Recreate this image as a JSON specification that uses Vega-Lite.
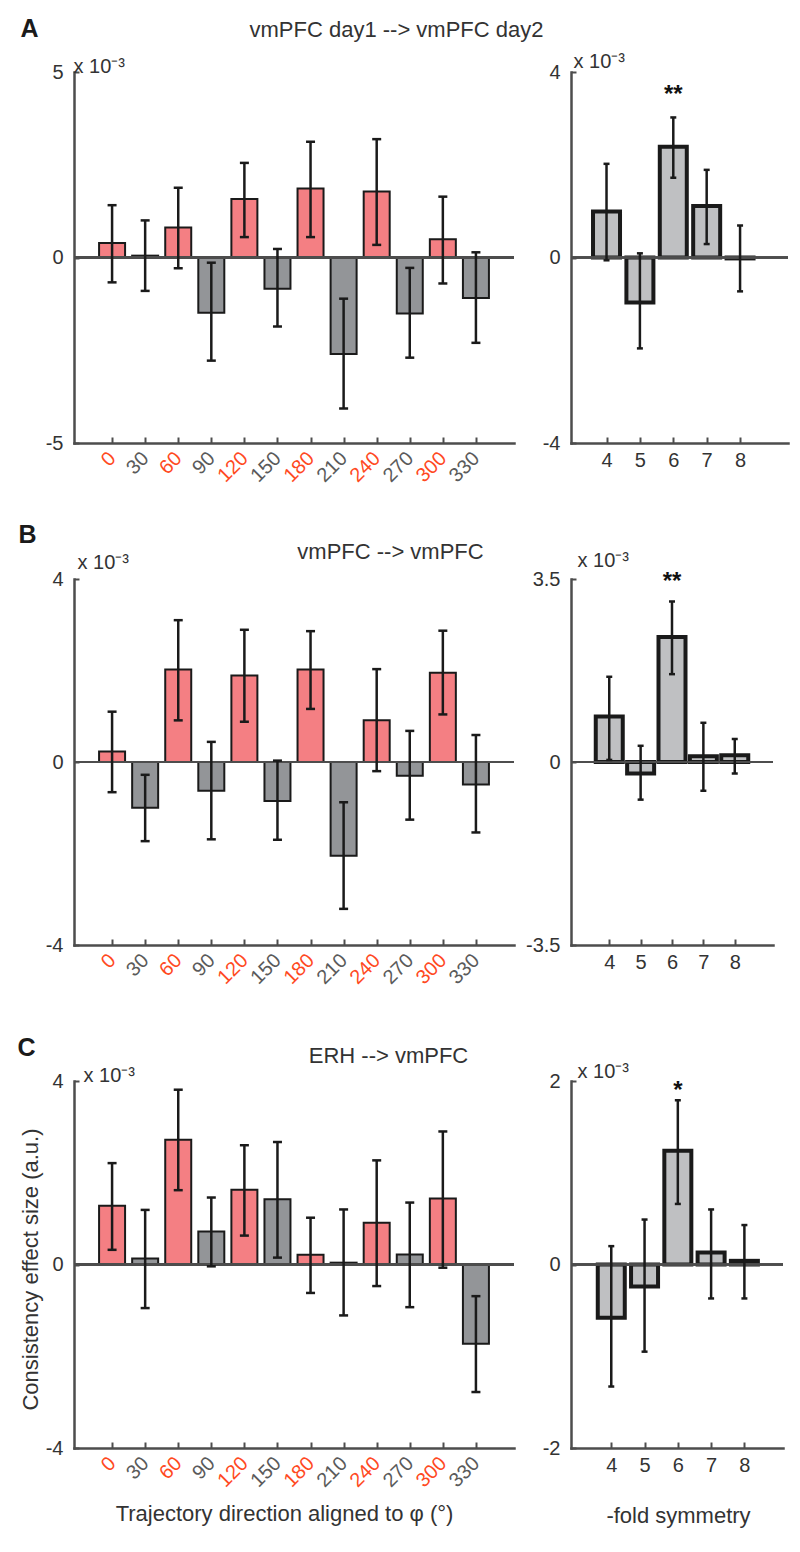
{
  "$schema": "https://vega.github.io/schema/vega-lite/v6.json",
  "background": "white",
  "padding": {"left": 17, "top": 16, "right": 5, "bottom": 5},
  "bounds": "flush",
  "columns": 2,
  "spacing": {"row": 136, "column": 57},
  "config": {
    "view": {"stroke": null},
    "font": "Liberation Sans",
    "axis": {"domainColor": "#4d4d4d", "domainWidth": 2.5, "tickColor": "#4d4d4d", "tickWidth": 2, "labelFont": "Liberation Sans", "labelFontSize": 20, "labelColor": "#333333", "titleFont": "Liberation Sans", "titleFontWeight": "normal", "titleColor": "#333333", "grid": false, "labelFlush": false, "labelOverlap": false, "domainCap": "square", "labelExpr": "'' + datum.value"}
  },
  "datasets": {
    "A_dir": [
      {"dir": 0, "mean": 0.39, "lo": -0.67, "hi": 1.41},
      {"dir": 30, "mean": 0.05, "lo": -0.90, "hi": 1.00},
      {"dir": 60, "mean": 0.81, "lo": -0.29, "hi": 1.88},
      {"dir": 90, "mean": -1.49, "lo": -2.78, "hi": -0.14},
      {"dir": 120, "mean": 1.58, "lo": 0.55, "hi": 2.55},
      {"dir": 150, "mean": -0.84, "lo": -1.86, "hi": 0.23},
      {"dir": 180, "mean": 1.86, "lo": 0.55, "hi": 3.12},
      {"dir": 210, "mean": -2.60, "lo": -4.07, "hi": -1.11},
      {"dir": 240, "mean": 1.78, "lo": 0.34, "hi": 3.19},
      {"dir": 270, "mean": -1.51, "lo": -2.70, "hi": -0.28},
      {"dir": 300, "mean": 0.49, "lo": -0.70, "hi": 1.64},
      {"dir": 330, "mean": -1.09, "lo": -2.30, "hi": 0.14}
    ],
    "A_fold": [
      {"fold": 4, "mean": 0.99, "lo": -0.06, "hi": 2.02, "sig": ""},
      {"fold": 5, "mean": -0.97, "lo": -1.96, "hi": 0.09, "sig": ""},
      {"fold": 6, "mean": 2.39, "lo": 1.72, "hi": 3.02, "sig": "**"},
      {"fold": 7, "mean": 1.11, "lo": 0.29, "hi": 1.89, "sig": ""},
      {"fold": 8, "mean": -0.02, "lo": -0.73, "hi": 0.69, "sig": ""}
    ],
    "B_dir": [
      {"dir": 0, "mean": 0.23, "lo": -0.66, "hi": 1.10},
      {"dir": 30, "mean": -1.00, "lo": -1.73, "hi": -0.28},
      {"dir": 60, "mean": 2.02, "lo": 0.91, "hi": 3.10},
      {"dir": 90, "mean": -0.63, "lo": -1.69, "hi": 0.44},
      {"dir": 120, "mean": 1.89, "lo": 0.88, "hi": 2.89},
      {"dir": 150, "mean": -0.85, "lo": -1.70, "hi": 0.03},
      {"dir": 180, "mean": 2.02, "lo": 1.16, "hi": 2.86},
      {"dir": 210, "mean": -2.05, "lo": -3.21, "hi": -0.88},
      {"dir": 240, "mean": 0.91, "lo": -0.20, "hi": 2.03},
      {"dir": 270, "mean": -0.30, "lo": -1.26, "hi": 0.68},
      {"dir": 300, "mean": 1.95, "lo": 1.04, "hi": 2.87},
      {"dir": 330, "mean": -0.49, "lo": -1.54, "hi": 0.59}
    ],
    "B_fold": [
      {"fold": 4, "mean": 0.87, "lo": 0.04, "hi": 1.63, "sig": ""},
      {"fold": 5, "mean": -0.22, "lo": -0.72, "hi": 0.31, "sig": ""},
      {"fold": 6, "mean": 2.39, "lo": 1.68, "hi": 3.07, "sig": "**"},
      {"fold": 7, "mean": 0.11, "lo": -0.55, "hi": 0.75, "sig": ""},
      {"fold": 8, "mean": 0.13, "lo": -0.22, "hi": 0.44, "sig": ""}
    ],
    "C_dir": [
      {"dir": 0, "mean": 1.28, "lo": 0.32, "hi": 2.21},
      {"dir": 30, "mean": 0.13, "lo": -0.95, "hi": 1.19},
      {"dir": 60, "mean": 2.72, "lo": 1.62, "hi": 3.81},
      {"dir": 90, "mean": 0.72, "lo": -0.04, "hi": 1.46},
      {"dir": 120, "mean": 1.63, "lo": 0.63, "hi": 2.60},
      {"dir": 150, "mean": 1.42, "lo": 0.15, "hi": 2.67},
      {"dir": 180, "mean": 0.21, "lo": -0.62, "hi": 1.02},
      {"dir": 210, "mean": 0.04, "lo": -1.11, "hi": 1.20},
      {"dir": 240, "mean": 0.91, "lo": -0.47, "hi": 2.27},
      {"dir": 270, "mean": 0.22, "lo": -0.93, "hi": 1.35},
      {"dir": 300, "mean": 1.44, "lo": -0.07, "hi": 2.90},
      {"dir": 330, "mean": -1.73, "lo": -2.78, "hi": -0.69}
    ],
    "C_fold": [
      {"fold": 4, "mean": -0.58, "lo": -1.33, "hi": 0.20, "sig": ""},
      {"fold": 5, "mean": -0.24, "lo": -0.95, "hi": 0.49, "sig": ""},
      {"fold": 6, "mean": 1.24, "lo": 0.66, "hi": 1.79, "sig": "*"},
      {"fold": 7, "mean": 0.13, "lo": -0.37, "hi": 0.60, "sig": ""},
      {"fold": 8, "mean": 0.04, "lo": -0.37, "hi": 0.43, "sig": ""}
    ]
  },
  "concat": [
    {
      "width": 440, "height": 371,
      "data": {"name": "A_dir"},
      "layer": [
        {"mark": {"type": "bar", "width": 26, "stroke": "#1a1a1a", "strokeWidth": 2},
         "encoding": {
           "x": {"field": "dir", "type": "quantitative", "scale": {"domain": [-30, 360], "nice": false, "zero": false},
                 "axis": {"orient": "bottom", "values": [0,30,60,90,120,150,180,210,240,270,300,330], "labelAngle": -45, "labelAlign": "right", "labelBaseline": "middle", "labelColor": {"condition": {"test": "datum.value % 60 === 0", "value": "#FF4A1F"}, "value": "#5a5a5a"}, "tickSize": -6, "labelPadding": 18, "title": null}},
           "y": {"field": "mean", "type": "quantitative", "scale": {"domain": [-5, 5], "nice": false},
                 "axis": {"orient": "left", "values": [-5, 0, 5], "tickSize": -5, "labelPadding": 16, "title": "x 10⁻³", "titleAngle": 0, "titleAlign": "left", "titleBaseline": "alphabetic", "titleX": -1, "titleY": 0, "titleFontSize": 20}},
           "fill": {"condition": {"test": "datum.dir % 60 === 0", "value": "#F47F83"}, "value": "#939598"}
         }},
        {"mark": {"type": "rule", "color": "#4d4d4d", "strokeWidth": 2},
         "encoding": {"y": {"datum": 0, "type": "quantitative", "scale": {"domain": [-5, 5], "nice": false}, "axis": null}}},
        {"mark": {"type": "rule", "color": "#1a1a1a", "strokeWidth": 2.5},
         "encoding": {
           "x": {"field": "dir", "type": "quantitative", "scale": {"domain": [-30, 360], "nice": false, "zero": false},
                 "axis": {"orient": "top", "domain": false, "ticks": false, "labels": false, "title": "vmPFC day1 --> vmPFC day2", "titleX": 322, "titleY": -36, "titleAlign": "center", "titleBaseline": "alphabetic", "titleFontSize": 22}},
           "y": {"field": "lo", "type": "quantitative", "scale": {"domain": [-5, 5], "nice": false}, "axis": null},
           "y2": {"field": "hi"}
         }},
        {"mark": {"type": "tick", "orient": "horizontal", "size": 9, "thickness": 2.5, "color": "#1a1a1a", "opacity": 1},
         "encoding": {
           "x": {"field": "dir", "type": "quantitative", "scale": {"domain": [-30, 360], "nice": false, "zero": false},
                 "axis": {"orient": "top", "domain": false, "ticks": false, "labels": false, "title": "A", "titleX": -54, "titleY": -36, "titleAlign": "left", "titleBaseline": "alphabetic", "titleFontSize": 25, "titleFontWeight": "bold", "titleColor": "#1a1a1a"}},
           "y": {"field": "lo", "type": "quantitative", "scale": {"domain": [-5, 5], "nice": false}, "axis": null}
         }},
        {"mark": {"type": "tick", "orient": "horizontal", "size": 9, "thickness": 2.5, "color": "#1a1a1a", "opacity": 1},
         "encoding": {
           "x": {"field": "dir", "type": "quantitative", "scale": {"domain": [-30, 360], "nice": false, "zero": false}, "axis": null},
           "y": {"field": "hi", "type": "quantitative", "scale": {"domain": [-5, 5], "nice": false}, "axis": null}
         }}
      ],
      "resolve": {"axis": {"x": "independent", "y": "independent"}}
    },
    {
      "width": 217, "height": 371,
      "data": {"name": "A_fold"},
      "layer": [
        {"mark": {"type": "bar", "width": 27, "stroke": "#1a1a1a", "strokeWidth": 4, "fill": "#BFC0C2"},
         "encoding": {
           "x": {"field": "fold", "type": "quantitative", "scale": {"domain": [3.086, 9.286], "nice": false, "zero": false},
                 "axis": {"values": [4,5,6,7,8], "labelAngle": 0, "labelAlign": "center", "labelBaseline": "top", "tickSize": -6, "labelPadding": 13, "title": null}},
           "y": {"field": "mean", "type": "quantitative", "scale": {"domain": [-4, 4], "nice": false},
                 "axis": {"values": [-4, 0, 4], "tickSize": -5, "labelPadding": 16, "title": "x 10⁻³", "titleAngle": 0, "titleAlign": "left", "titleBaseline": "alphabetic", "titleX": 2, "titleY": -5, "titleFontSize": 20}}
         }},
        {"mark": {"type": "rule", "color": "#4d4d4d", "strokeWidth": 2},
         "encoding": {"y": {"datum": 0, "type": "quantitative", "scale": {"domain": [-4, 4], "nice": false}, "axis": null}}},
        {"mark": {"type": "rule", "color": "#1a1a1a", "strokeWidth": 2.5},
         "encoding": {"x": {"field": "fold", "type": "quantitative", "scale": {"domain": [3.086, 9.286], "nice": false, "zero": false}, "axis": null}, "y": {"field": "lo", "type": "quantitative", "scale": {"domain": [-4, 4], "nice": false}, "axis": null}, "y2": {"field": "hi"}}},
        {"mark": {"type": "tick", "orient": "horizontal", "size": 6, "thickness": 2.5, "color": "#1a1a1a", "opacity": 1},
         "encoding": {"x": {"field": "fold", "type": "quantitative", "scale": {"domain": [3.086, 9.286], "nice": false, "zero": false}, "axis": null}, "y": {"field": "lo", "type": "quantitative", "scale": {"domain": [-4, 4], "nice": false}, "axis": null}}},
        {"mark": {"type": "tick", "orient": "horizontal", "size": 6, "thickness": 2.5, "color": "#1a1a1a", "opacity": 1},
         "encoding": {"x": {"field": "fold", "type": "quantitative", "scale": {"domain": [3.086, 9.286], "nice": false, "zero": false}, "axis": null}, "y": {"field": "hi", "type": "quantitative", "scale": {"domain": [-4, 4], "nice": false}, "axis": null}}},
        {"mark": {"type": "text", "dy": -15, "fontSize": 24, "fontWeight": "bold", "baseline": "alphabetic", "color": "#111111"},
         "encoding": {"x": {"field": "fold", "type": "quantitative", "scale": {"domain": [3.086, 9.286], "nice": false, "zero": false}, "axis": null}, "y": {"field": "hi", "type": "quantitative", "scale": {"domain": [-4, 4], "nice": false}, "axis": null}, "text": {"field": "sig"}}}
      ],
      "resolve": {"axis": {"x": "independent", "y": "independent"}}
    },
    {
      "width": 440, "height": 366,
      "data": {"name": "B_dir"},
      "layer": [
        {"mark": {"type": "bar", "width": 26, "stroke": "#1a1a1a", "strokeWidth": 2},
         "encoding": {
           "x": {"field": "dir", "type": "quantitative", "scale": {"domain": [-30, 360], "nice": false, "zero": false},
                 "axis": {"orient": "bottom", "values": [0,30,60,90,120,150,180,210,240,270,300,330], "labelAngle": -45, "labelAlign": "right", "labelBaseline": "middle", "labelColor": {"condition": {"test": "datum.value % 60 === 0", "value": "#FF4A1F"}, "value": "#5a5a5a"}, "tickSize": -6, "labelPadding": 18, "title": null}},
           "y": {"field": "mean", "type": "quantitative", "scale": {"domain": [-4, 4], "nice": false},
                 "axis": {"orient": "left", "values": [-4, 0, 4], "tickSize": -5, "labelPadding": 16, "title": "x 10⁻³", "titleAngle": 0, "titleAlign": "left", "titleBaseline": "alphabetic", "titleX": 3, "titleY": -11, "titleFontSize": 20}},
           "fill": {"condition": {"test": "datum.dir % 60 === 0", "value": "#F47F83"}, "value": "#939598"}
         }},
        {"mark": {"type": "rule", "color": "#4d4d4d", "strokeWidth": 2},
         "encoding": {"y": {"datum": 0, "type": "quantitative", "scale": {"domain": [-4, 4], "nice": false}, "axis": null}}},
        {"mark": {"type": "rule", "color": "#1a1a1a", "strokeWidth": 2.5},
         "encoding": {
           "x": {"field": "dir", "type": "quantitative", "scale": {"domain": [-30, 360], "nice": false, "zero": false},
                 "axis": {"orient": "top", "domain": false, "ticks": false, "labels": false, "title": "vmPFC --> vmPFC", "titleX": 316, "titleY": -21, "titleAlign": "center", "titleBaseline": "alphabetic", "titleFontSize": 22}},
           "y": {"field": "lo", "type": "quantitative", "scale": {"domain": [-4, 4], "nice": false}, "axis": null},
           "y2": {"field": "hi"}
         }},
        {"mark": {"type": "tick", "orient": "horizontal", "size": 9, "thickness": 2.5, "color": "#1a1a1a", "opacity": 1},
         "encoding": {
           "x": {"field": "dir", "type": "quantitative", "scale": {"domain": [-30, 360], "nice": false, "zero": false},
                 "axis": {"orient": "top", "domain": false, "ticks": false, "labels": false, "title": "B", "titleX": -56, "titleY": -37, "titleAlign": "left", "titleBaseline": "alphabetic", "titleFontSize": 25, "titleFontWeight": "bold", "titleColor": "#1a1a1a"}},
           "y": {"field": "lo", "type": "quantitative", "scale": {"domain": [-4, 4], "nice": false}, "axis": null}
         }},
        {"mark": {"type": "tick", "orient": "horizontal", "size": 9, "thickness": 2.5, "color": "#1a1a1a", "opacity": 1},
         "encoding": {
           "x": {"field": "dir", "type": "quantitative", "scale": {"domain": [-30, 360], "nice": false, "zero": false}, "axis": null},
           "y": {"field": "hi", "type": "quantitative", "scale": {"domain": [-4, 4], "nice": false}, "axis": null}
         }}
      ],
      "resolve": {"axis": {"x": "independent", "y": "independent"}}
    },
    {
      "width": 202, "height": 366,
      "data": {"name": "B_fold"},
      "layer": [
        {"mark": {"type": "bar", "width": 27, "stroke": "#1a1a1a", "strokeWidth": 4, "fill": "#BFC0C2"},
         "encoding": {
           "x": {"field": "fold", "type": "quantitative", "scale": {"domain": [2.94, 9.06], "nice": false, "zero": false},
                 "axis": {"values": [4,5,6,7,8], "labelAngle": 0, "labelAlign": "center", "labelBaseline": "top", "tickSize": -6, "labelPadding": 13, "title": null}},
           "y": {"field": "mean", "type": "quantitative", "scale": {"domain": [-3.5, 3.5], "nice": false},
                 "axis": {"values": [-3.5, 0, 3.5], "tickSize": -5, "labelPadding": 16, "title": "x 10⁻³", "titleAngle": 0, "titleAlign": "left", "titleBaseline": "alphabetic", "titleX": 6, "titleY": -13, "titleFontSize": 20}}
         }},
        {"mark": {"type": "rule", "color": "#4d4d4d", "strokeWidth": 2},
         "encoding": {"y": {"datum": 0, "type": "quantitative", "scale": {"domain": [-3.5, 3.5], "nice": false}, "axis": null}}},
        {"mark": {"type": "rule", "color": "#1a1a1a", "strokeWidth": 2.5},
         "encoding": {"x": {"field": "fold", "type": "quantitative", "scale": {"domain": [2.94, 9.06], "nice": false, "zero": false}, "axis": null}, "y": {"field": "lo", "type": "quantitative", "scale": {"domain": [-3.5, 3.5], "nice": false}, "axis": null}, "y2": {"field": "hi"}}},
        {"mark": {"type": "tick", "orient": "horizontal", "size": 6, "thickness": 2.5, "color": "#1a1a1a", "opacity": 1},
         "encoding": {"x": {"field": "fold", "type": "quantitative", "scale": {"domain": [2.94, 9.06], "nice": false, "zero": false}, "axis": null}, "y": {"field": "lo", "type": "quantitative", "scale": {"domain": [-3.5, 3.5], "nice": false}, "axis": null}}},
        {"mark": {"type": "tick", "orient": "horizontal", "size": 6, "thickness": 2.5, "color": "#1a1a1a", "opacity": 1},
         "encoding": {"x": {"field": "fold", "type": "quantitative", "scale": {"domain": [2.94, 9.06], "nice": false, "zero": false}, "axis": null}, "y": {"field": "hi", "type": "quantitative", "scale": {"domain": [-3.5, 3.5], "nice": false}, "axis": null}}},
        {"mark": {"type": "text", "dy": -12, "fontSize": 24, "fontWeight": "bold", "baseline": "alphabetic", "color": "#111111"},
         "encoding": {"x": {"field": "fold", "type": "quantitative", "scale": {"domain": [2.94, 9.06], "nice": false, "zero": false}, "axis": null}, "y": {"field": "hi", "type": "quantitative", "scale": {"domain": [-3.5, 3.5], "nice": false}, "axis": null}, "text": {"field": "sig"}}}
      ],
      "resolve": {"axis": {"x": "independent", "y": "independent"}}
    },
    {
      "width": 440, "height": 367,
      "data": {"name": "C_dir"},
      "layer": [
        {"mark": {"type": "bar", "width": 26, "stroke": "#1a1a1a", "strokeWidth": 2},
         "encoding": {
           "x": {"field": "dir", "type": "quantitative", "scale": {"domain": [-30, 360], "nice": false, "zero": false},
                 "axis": {"orient": "bottom", "values": [0,30,60,90,120,150,180,210,240,270,300,330], "labelAngle": -45, "labelAlign": "right", "labelBaseline": "middle", "labelColor": {"condition": {"test": "datum.value % 60 === 0", "value": "#FF4A1F"}, "value": "#5a5a5a"}, "tickSize": -6, "labelPadding": 18, "title": "Trajectory direction aligned to φ (°)", "titleX": 210, "titleY": 72, "titleAlign": "center", "titleBaseline": "alphabetic", "titleFontSize": 22}},
           "y": {"field": "mean", "type": "quantitative", "scale": {"domain": [-4, 4], "nice": false},
                 "axis": {"orient": "left", "values": [-4, 0, 4], "tickSize": -5, "labelPadding": 16, "title": "x 10⁻³", "titleAngle": 0, "titleAlign": "left", "titleBaseline": "alphabetic", "titleX": 9, "titleY": 0, "titleFontSize": 20}},
           "fill": {"condition": {"test": "datum.dir % 60 === 0", "value": "#F47F83"}, "value": "#939598"}
         }},
        {"mark": {"type": "rule", "color": "#4d4d4d", "strokeWidth": 2},
         "encoding": {"y": {"datum": 0, "type": "quantitative", "scale": {"domain": [-4, 4], "nice": false}, "axis": null}}},
        {"mark": {"type": "rule", "color": "#1a1a1a", "strokeWidth": 2.5},
         "encoding": {
           "x": {"field": "dir", "type": "quantitative", "scale": {"domain": [-30, 360], "nice": false, "zero": false},
                 "axis": {"orient": "top", "domain": false, "ticks": false, "labels": false, "title": "ERH --> vmPFC", "titleX": 314, "titleY": -19, "titleAlign": "center", "titleBaseline": "alphabetic", "titleFontSize": 22}},
           "y": {"field": "lo", "type": "quantitative", "scale": {"domain": [-4, 4], "nice": false},
                 "axis": {"orient": "left", "domain": false, "ticks": false, "labels": false, "title": "Consistency effect size (a.u.)", "titleAngle": -90, "titleX": -44, "titleY": 188, "titleAlign": "center", "titleBaseline": "middle", "titleFontSize": 22}},
           "y2": {"field": "hi"}
         }},
        {"mark": {"type": "tick", "orient": "horizontal", "size": 9, "thickness": 2.5, "color": "#1a1a1a", "opacity": 1},
         "encoding": {
           "x": {"field": "dir", "type": "quantitative", "scale": {"domain": [-30, 360], "nice": false, "zero": false},
                 "axis": {"orient": "top", "domain": false, "ticks": false, "labels": false, "title": "C", "titleX": -57, "titleY": -26, "titleAlign": "left", "titleBaseline": "alphabetic", "titleFontSize": 25, "titleFontWeight": "bold", "titleColor": "#1a1a1a"}},
           "y": {"field": "lo", "type": "quantitative", "scale": {"domain": [-4, 4], "nice": false}, "axis": null}
         }},
        {"mark": {"type": "tick", "orient": "horizontal", "size": 9, "thickness": 2.5, "color": "#1a1a1a", "opacity": 1},
         "encoding": {
           "x": {"field": "dir", "type": "quantitative", "scale": {"domain": [-30, 360], "nice": false, "zero": false}, "axis": null},
           "y": {"field": "hi", "type": "quantitative", "scale": {"domain": [-4, 4], "nice": false}, "axis": null}
         }}
      ],
      "resolve": {"axis": {"x": "independent", "y": "independent"}}
    },
    {
      "width": 212, "height": 367,
      "data": {"name": "C_fold"},
      "layer": [
        {"mark": {"type": "bar", "width": 27, "stroke": "#1a1a1a", "strokeWidth": 4, "fill": "#BFC0C2"},
         "encoding": {
           "x": {"field": "fold", "type": "quantitative", "scale": {"domain": [2.94, 9.01], "nice": false, "zero": false},
                 "axis": {"values": [4,5,6,7,8], "labelAngle": 0, "labelAlign": "center", "labelBaseline": "top", "tickSize": -6, "labelPadding": 13, "title": "-fold symmetry", "titleX": 107, "titleY": 74, "titleAlign": "center", "titleBaseline": "alphabetic", "titleFontSize": 22}},
           "y": {"field": "mean", "type": "quantitative", "scale": {"domain": [-2, 2], "nice": false},
                 "axis": {"values": [-2, 0, 2], "tickSize": -5, "labelPadding": 16, "title": "x 10⁻³", "titleAngle": 0, "titleAlign": "left", "titleBaseline": "alphabetic", "titleX": 6, "titleY": -4, "titleFontSize": 20}}
         }},
        {"mark": {"type": "rule", "color": "#4d4d4d", "strokeWidth": 2},
         "encoding": {"y": {"datum": 0, "type": "quantitative", "scale": {"domain": [-2, 2], "nice": false}, "axis": null}}},
        {"mark": {"type": "rule", "color": "#1a1a1a", "strokeWidth": 2.5},
         "encoding": {"x": {"field": "fold", "type": "quantitative", "scale": {"domain": [2.94, 9.01], "nice": false, "zero": false}, "axis": null}, "y": {"field": "lo", "type": "quantitative", "scale": {"domain": [-2, 2], "nice": false}, "axis": null}, "y2": {"field": "hi"}}},
        {"mark": {"type": "tick", "orient": "horizontal", "size": 6, "thickness": 2.5, "color": "#1a1a1a", "opacity": 1},
         "encoding": {"x": {"field": "fold", "type": "quantitative", "scale": {"domain": [2.94, 9.01], "nice": false, "zero": false}, "axis": null}, "y": {"field": "lo", "type": "quantitative", "scale": {"domain": [-2, 2], "nice": false}, "axis": null}}},
        {"mark": {"type": "tick", "orient": "horizontal", "size": 6, "thickness": 2.5, "color": "#1a1a1a", "opacity": 1},
         "encoding": {"x": {"field": "fold", "type": "quantitative", "scale": {"domain": [2.94, 9.01], "nice": false, "zero": false}, "axis": null}, "y": {"field": "hi", "type": "quantitative", "scale": {"domain": [-2, 2], "nice": false}, "axis": null}}},
        {"mark": {"type": "text", "dy": -2, "fontSize": 24, "fontWeight": "bold", "baseline": "alphabetic", "color": "#111111"},
         "encoding": {"x": {"field": "fold", "type": "quantitative", "scale": {"domain": [2.94, 9.01], "nice": false, "zero": false}, "axis": null}, "y": {"field": "hi", "type": "quantitative", "scale": {"domain": [-2, 2], "nice": false}, "axis": null}, "text": {"field": "sig"}}}
      ],
      "resolve": {"axis": {"x": "independent", "y": "independent"}}
    }
  ]
}
